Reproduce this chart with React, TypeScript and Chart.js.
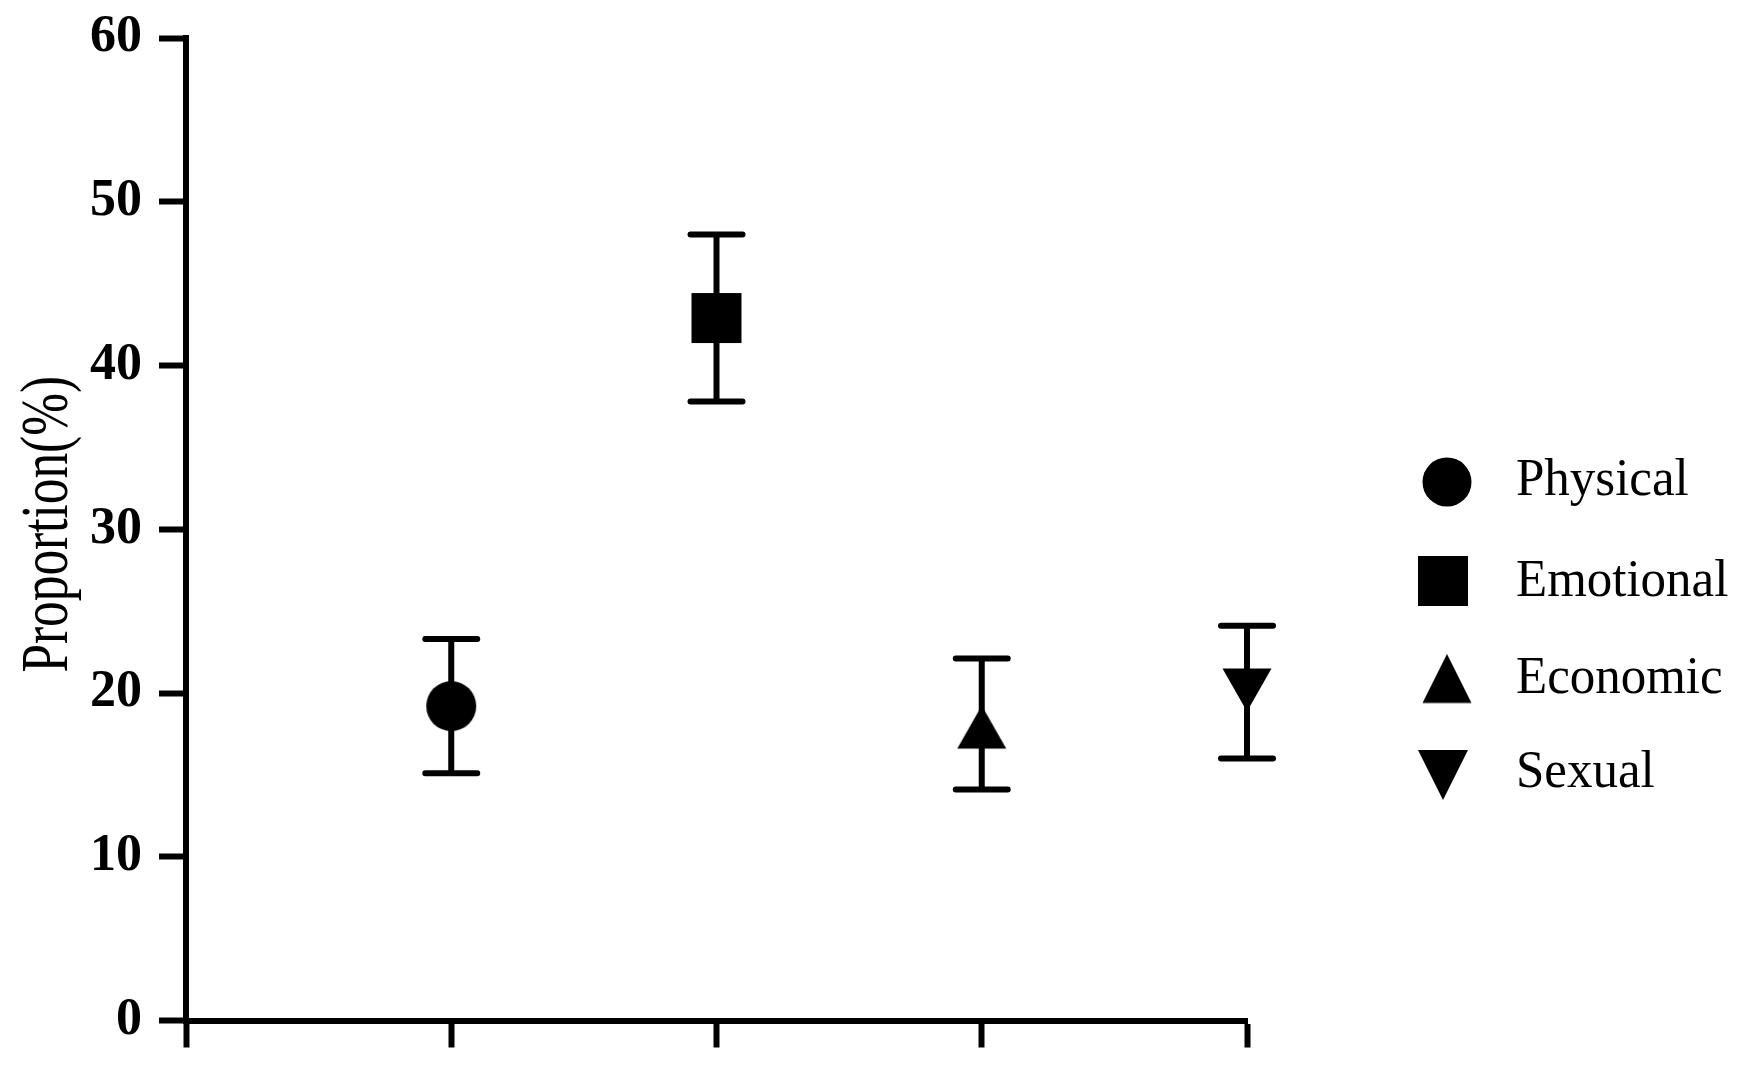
import React, { useEffect, useRef } from 'react';
import { Chart, registerables } from 'chart.js';

Chart.register(...registerables);

// ---- Data ----
const categories = ['Physical', 'Emotional', 'Economic', 'Sexual'];
const xPositions = [1, 2, 3, 4];
const means = [19.2, 42.9, 18.1, 20.0];
const lowerBounds = [15.1, 37.8, 14.1, 16.0];
const upperBounds = [23.3, 48.0, 22.1, 24.1];
const xTicks = [0, 1, 2, 3, 4];
const yTicks = [0, 10, 20, 30, 40, 50, 60];
const yTitle = 'Proportion(%)';
const shapes = ['circle', 'square', 'triangleUp', 'triangleDown'];

const SERIF = '"Liberation Serif", "Times New Roman", Times, serif';

function makeMarker(shape: string, legend: boolean): HTMLCanvasElement {
  const S = 60;
  const c = document.createElement('canvas');
  c.width = S;
  c.height = S;
  const ctx = c.getContext('2d')!;
  ctx.fillStyle = '#000';
  const cx = S / 2;
  const cy = S / 2;
  ctx.beginPath();
  if (shape === 'circle') {
    ctx.arc(cx, cy, legend ? 24.5 : 25, 0, Math.PI * 2);
  } else if (shape === 'square') {
    ctx.rect(cx - 25, cy - 25, 50, 50);
  } else if (shape === 'triangleUp') {
    if (legend) {
      ctx.moveTo(cx, cy - 24.5);
      ctx.lineTo(cx + 24.5, cy + 24.5);
      ctx.lineTo(cx - 24.5, cy + 24.5);
    } else {
      ctx.moveTo(cx, cy - 18.5);
      ctx.lineTo(cx + 24.5, cy + 24.5);
      ctx.lineTo(cx - 24.5, cy + 24.5);
    }
  } else {
    if (legend) {
      ctx.moveTo(cx, cy + 25);
      ctx.lineTo(cx + 25, cy - 25);
      ctx.lineTo(cx - 25, cy - 25);
    } else {
      ctx.moveTo(cx, cy + 18.5);
      ctx.lineTo(cx + 24.5, cy - 24.5);
      ctx.lineTo(cx - 24.5, cy - 24.5);
    }
  }
  ctx.closePath();
  ctx.fill();
  return c;
}

export default function App() {
  const canvasRef = useRef<HTMLCanvasElement | null>(null);

  useEffect(() => {
    const canvas = canvasRef.current;
    if (!canvas) return;

    const dataMarkers = shapes.map((s) => makeMarker(s, false));
    const legendMarkers = shapes.map((s) => makeMarker(s, true));

    const errorBarPlugin = {
      id: 'errorBars',
      beforeDatasetsDraw(chart: any) {
        const { ctx } = chart;
        const xs = chart.scales.x;
        const ys = chart.scales.y;
        ctx.save();
        ctx.strokeStyle = '#000';
        ctx.lineWidth = 6;
        ctx.lineCap = 'round';
        for (let i = 0; i < categories.length; i++) {
          const x = xs.getPixelForValue(xPositions[i]);
          const yLo = ys.getPixelForValue(lowerBounds[i]);
          const yHi = ys.getPixelForValue(upperBounds[i]);
          ctx.beginPath();
          ctx.moveTo(x, yLo);
          ctx.lineTo(x, yHi);
          ctx.moveTo(x - 26, yLo);
          ctx.lineTo(x + 26, yLo);
          ctx.moveTo(x - 26, yHi);
          ctx.lineTo(x + 26, yHi);
          ctx.stroke();
        }
        ctx.restore();
      },
    };

    const titlePlugin = {
      id: 'yTitle',
      afterDraw(chart: any) {
        const { ctx } = chart;
        const ys = chart.scales.y;
        const cy = (ys.top + ys.bottom) / 2 - 5;
        ctx.save();
        ctx.translate(67, cy);
        ctx.rotate(-Math.PI / 2);
        ctx.scale(0.755, 1);
        ctx.fillStyle = '#000';
        ctx.font = `68px ${SERIF}`;
        ctx.textAlign = 'center';
        ctx.textBaseline = 'alphabetic';
        ctx.fillText(yTitle, 0, 0);
        ctx.restore();
      },
    };

    const legendMarkerPos = [
      [1447, 482],
      [1443, 581],
      [1447, 678.5],
      [1443, 775],
    ];
    const legendBaselines = [495, 596, 693, 787];
    const legendTextX = 1516;

    const legendPlugin = {
      id: 'customLegend',
      afterDraw(chart: any) {
        const { ctx } = chart;
        ctx.save();
        for (let i = 0; i < categories.length; i++) {
          const m = legendMarkers[i];
          const [mx, my] = legendMarkerPos[i];
          ctx.drawImage(m, mx - m.width / 2, my - m.height / 2);
          ctx.save();
          ctx.translate(legendTextX, legendBaselines[i]);
          ctx.scale(0.98, 1);
          ctx.fillStyle = '#000';
          ctx.font = `52px ${SERIF}`;
          ctx.textAlign = 'left';
          ctx.textBaseline = 'alphabetic';
          ctx.fillText(categories[i], 0, 0);
          ctx.restore();
        }
        ctx.restore();
      },
    };

    const gridOpts = {
      display: true,
      drawOnChartArea: false,
      drawTicks: true,
      tickLength: 27,
      tickWidth: 6,
      tickColor: '#000',
    };
    const borderOpts = { display: true, color: '#000', width: 6 };

    const chart = new Chart(canvas, {
      type: 'scatter',
      data: {
        datasets: categories.map((name, i) => ({
          label: name,
          data: [{ x: xPositions[i], y: means[i] }],
          pointStyle: dataMarkers[i] as any,
          pointRadius: 25,
          pointHoverRadius: 25,
          backgroundColor: '#000',
          borderColor: '#000',
          clip: false as any,
        })),
      },
      options: {
        responsive: false,
        animation: false,
        events: [],
        layout: { padding: { top: 38, right: 492, left: 0, bottom: 0 } },
        plugins: {
          legend: { display: false },
          tooltip: { enabled: false },
        },
        scales: {
          x: {
            type: 'linear',
            min: 0,
            max: 4,
            afterBuildTicks: (s: any) => {
              s.ticks = xTicks.map((v) => ({ value: v }));
            },
            afterFit: (s: any) => {
              s.height = 52.5;
              s.paddingLeft = 0;
              s.paddingRight = 0;
            },
            ticks: {
              callback: () => '',
              autoSkip: false,
              maxRotation: 0,
              font: { size: 1 },
            },
            grid: gridOpts as any,
            border: borderOpts as any,
          },
          y: {
            type: 'linear',
            min: 0,
            max: 60,
            afterBuildTicks: (s: any) => {
              s.ticks = yTicks.map((v) => ({ value: v }));
            },
            afterFit: (s: any) => {
              s.width = 186;
              s.paddingTop = 0;
              s.paddingBottom = 0;
            },
            ticks: {
              padding: 17,
              color: '#000',
              autoSkip: false,
              font: { family: SERIF, size: 52, weight: 'bold' },
            },
            grid: gridOpts as any,
            border: borderOpts as any,
            title: { display: false },
          },
        },
      },
      plugins: [errorBarPlugin, titlePlugin, legendPlugin],
    });

    return () => {
      chart.destroy();
    };
  }, []);

  return (
    <div
      style={{
        position: 'absolute',
        left: 0,
        top: 0,
        width: 1739,
        height: 1073,
        background: '#fff',
      }}
    >
      <canvas ref={canvasRef} width={1739} height={1073} style={{ display: 'block' }} />
    </div>
  );
}
